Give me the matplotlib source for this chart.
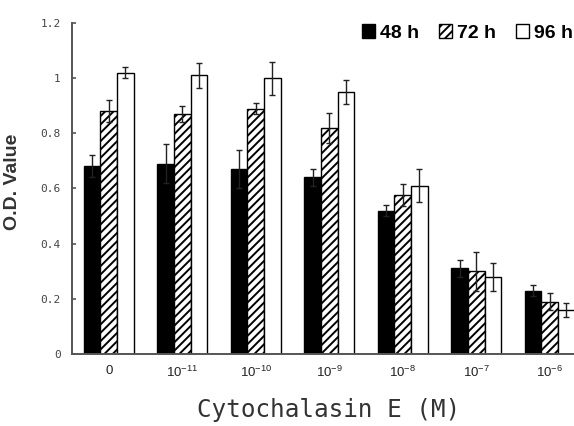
import matplotlib
matplotlib.use("Agg")
import matplotlib.pyplot as plt
import numpy as np

# data
doses = ["0", r"$\mathregular{10^{-11}}$", r"$\mathregular{10^{-10}}$", r"$\mathregular{10^{-9}}$",
         r"$\mathregular{10^{-8}}$", r"$\mathregular{10^{-7}}$", r"$\mathregular{10^{-6}}$"]
series = ["48 h", "72 h", "96 h"]
od_48 = [0.68, 0.69, 0.67, 0.64, 0.52, 0.31, 0.23]
od_72 = [0.88, 0.87, 0.89, 0.82, 0.575, 0.30, 0.19]
od_96 = [1.02, 1.01, 1.00, 0.95, 0.61, 0.28, 0.16]
err_48 = [0.04, 0.07, 0.07, 0.03, 0.02, 0.03, 0.02]
err_72 = [0.04, 0.03, 0.02, 0.055, 0.04, 0.07, 0.03]
err_96 = [0.02, 0.045, 0.06, 0.045, 0.06, 0.05, 0.025]

plt.rcParams["hatch.linewidth"] = 1.4

fig = plt.figure(figsize=(5.74, 4.26), dpi=100)
ax = fig.add_axes([72 / 574, 72 / 426, 514.5 / 574, 331 / 426])

x = np.arange(len(doses))
w = 0.227
styles = [dict(color="black", edgecolor="black"),
          dict(color="white", edgecolor="black", hatch="////"),
          dict(color="white", edgecolor="black")]
vals = [od_48, od_72, od_96]
errs = [err_48, err_72, err_96]
for i in range(3):
    ax.bar(x + (i - 1) * w, vals[i], w, yerr=errs[i], label=series[i],
           linewidth=1.0, error_kw=dict(ecolor="#222222", elinewidth=1.0, capsize=2.5, capthick=1.0),
           **styles[i])

ax.set_xlim(-0.5, len(doses) - 0.5)
ax.set_ylim(0, 1.2)
ax.set_yticks([0, 0.2, 0.4, 0.6, 0.8, 1.0, 1.2])
ax.set_yticklabels(["0", "0.2", "0.4", "0.6", "0.8", "1", "1.2"],
                   family="DejaVu Sans Mono", fontsize=8, color="#444444")
ax.set_xticks(x)
ax.set_xticklabels(doses, family="Liberation Sans", fontsize=9.5, color="#222222")
ax.tick_params(axis="y", direction="in", length=3, width=1.2, color="#555555", pad=8)
ax.tick_params(axis="x", length=0, pad=8)

for s in ["top", "right"]:
    ax.spines[s].set_visible(False)
for s in ["left", "bottom"]:
    ax.spines[s].set_color("#555555")
    ax.spines[s].set_linewidth(1.4)

ax.set_xlabel("Cytochalasin E (M)", family="DejaVu Sans Mono", fontsize=17.5,
              color="#333333")
ax.xaxis.set_label_coords((329 - 72) / 514.5, -44 / 331)
ax.set_ylabel("O.D. Value", family="Liberation Sans", fontweight="bold", fontsize=14,
              color="#333333")
ax.yaxis.set_label_coords(-51 / 514.5, (354 - 182) / 331)

fig.legend(loc="center right", bbox_to_anchor=(573 / 574, 1 - 33 / 426), ncol=3,
           frameon=False, borderpad=0, borderaxespad=0, handlelength=0.7,
           handleheight=0.7, handletextpad=0.25, columnspacing=1.0,
           prop=dict(family="Liberation Sans", weight="bold", size=14))

fig.savefig("out.png", dpi=100)
